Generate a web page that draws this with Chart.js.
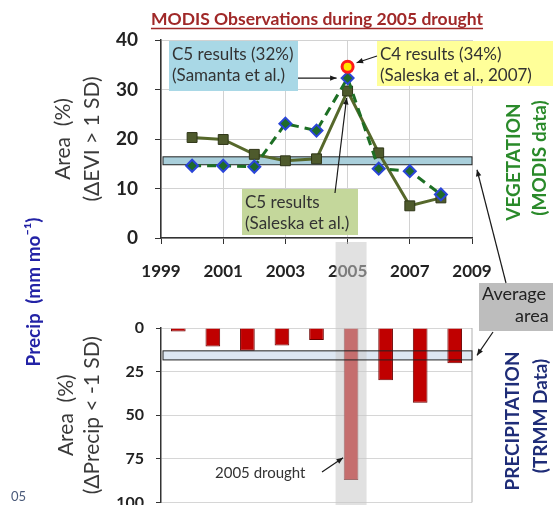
<!DOCTYPE html>
<html>
<head>
<meta charset="utf-8">
<script src="https://cdn.jsdelivr.net/npm/chart.js@4.4.1/dist/chart.umd.min.js"></script>
<style>
    html, body { margin: 0; padding: 0; background: #fff; }
    #wrap { position: relative; width: 553px; height: 505px; overflow: hidden; }
    #wrap canvas { position: absolute; left: 0; top: 0; }
</style>
</head>
<body>
<div id="wrap">
    <canvas id="vegChart" width="553" height="505"></canvas>
    <!-- taller than the page: the 100 % gridline sits right at the bottom edge and gets cut -->
    <canvas id="precipChart" width="553" height="524"></canvas>
</div>
<script>
/* ================================
   DATA
================================ */
const years = [2000, 2001, 2002, 2003, 2004, 2005, 2006, 2007, 2008];
const yearLabels = ['2000', '2001', '2002', '2003', '2004', '2005', '2006', '2007', '2008'];

// Area (%) with dEVI > 1 SD
const eviSaleska = [20.3, 19.9, 16.9, 15.6, 16.0, 29.7, 17.2, 6.5, 8.1];
const eviSamanta = [14.6, 14.6, 14.4, 23.1, 21.7, 32.3, 14.0, 13.5, 8.8];
const eviC4Year = [2005];
const eviC4 = [34.6];
const vegAvgBand = [14.8, 16.4];

// Area (%) with dPrecip < -1 SD
const precipArea = [2, 10.6, 13.1, 10, 6.9, 87.1, 30, 42.9, 20.2];
const precipAvgBand = [13.1, 18.3];
const droughtYear = '2005';

const FONT = 'Lato';
const font = (size, weight) => ({ family: FONT, size, weight: weight || 'normal' });
const PAGE_H = 505;

/* ================================
   DRAW HELPERS
================================ */
function arrow(ctx, x1, y1, x2, y2) {
    const a = Math.atan2(y2 - y1, x2 - x1), h = 7;
    ctx.save();
    ctx.strokeStyle = '#1a1a1a';
    ctx.fillStyle = '#1a1a1a';
    ctx.lineWidth = 1.2;
    ctx.beginPath(); ctx.moveTo(x1, y1); ctx.lineTo(x2, y2); ctx.stroke();
    ctx.beginPath();
    ctx.moveTo(x2, y2);
    ctx.lineTo(x2 - h * Math.cos(a - 0.4), y2 - h * Math.sin(a - 0.4));
    ctx.lineTo(x2 - h * Math.cos(a + 0.4), y2 - h * Math.sin(a + 0.4));
    ctx.closePath(); ctx.fill();
    ctx.restore();
}

function noteBox(ctx, x, y, w, h, fill, lines, size) {
    ctx.save();
    ctx.fillStyle = fill;
    ctx.fillRect(x, y, w, h);
    ctx.fillStyle = '#333';
    ctx.font = `${size}px ${FONT}`;
    ctx.textBaseline = 'middle';
    lines.forEach((t, i) => ctx.fillText(t, x + 3, y + 14 + i * 21));
    ctx.restore();
}

function vText(ctx, text, x, y, size, color, weight) {
    ctx.save();
    ctx.translate(x, y);
    ctx.rotate(-Math.PI / 2);
    ctx.font = `${weight || 'bold'} ${size}px ${FONT}`;
    ctx.fillStyle = color;
    ctx.textAlign = 'center';
    ctx.textBaseline = 'middle';
    ctx.fillText(text, 0, 0);
    ctx.restore();
}

function band(ctx, area, yTop, yBot, fill) {
    ctx.save();
    if (fill) {
        ctx.fillStyle = fill;
        ctx.fillRect(area.left + 2, yTop, area.right - area.left - 2, yBot - yTop);
    }
    ctx.strokeStyle = '#222';
    ctx.lineWidth = 1;
    ctx.strokeRect(area.left + 2, yTop, area.right - area.left - 2, yBot - yTop);
    ctx.restore();
}

/* ================================
   VEGETATION (TOP) CHART
================================ */
const vegPlugin = {
    id: 'vegNotes',
    beforeDatasetsDraw(chart) {
        const y = chart.scales.y;
        band(chart.ctx, chart.chartArea, y.getPixelForValue(vegAvgBand[1]), y.getPixelForValue(vegAvgBand[0]), '#a9cfdb');
    },
    afterDraw(chart) {
        const ctx = chart.ctx, x = chart.scales.x, y = chart.scales.y;
        const px = x.getPixelForValue(2005);

        // title
        ctx.save();
        ctx.font = `bold 17.5px ${FONT}`;
        ctx.fillStyle = '#a02828';
        ctx.textAlign = 'center';
        ctx.textBaseline = 'alphabetic';
        const title = 'MODIS Observations during 2005 drought';
        ctx.fillText(title, 317, 25);
        const tw = ctx.measureText(title).width;
        ctx.strokeStyle = '#a02828';
        ctx.lineWidth = 1.3;
        ctx.beginPath(); ctx.moveTo(317 - tw / 2, 28.5); ctx.lineTo(317 + tw / 2, 28.5); ctx.stroke();
        ctx.restore();

        noteBox(ctx, 169, 41, 129, 50, '#a9d8e6', ['C5 results (32%)', '(Samanta et al.)'], 17);
        noteBox(ctx, 377, 41, 176, 45, '#ffff99', ['C4 results (34%)', '(Saleska et al., 2007)'], 17);
        noteBox(ctx, 242, 189, 116, 46, '#c4d79b', ['C5 results', '(Saleska et al.)'], 17);

        arrow(ctx, 298, y.getPixelForValue(eviSamanta[5]), px - 11, y.getPixelForValue(eviSamanta[5]));
        arrow(ctx, 377, 56, px + 9, y.getPixelForValue(eviC4[0]) - 4);
        arrow(ctx, 335, 193, px - 1, y.getPixelForValue(eviSaleska[5]) + 7);
    }
};

const vegChart = new Chart(document.getElementById('vegChart'), {
    type: 'line',
    data: {
        datasets: [
            {
                label: 'C4 results (Saleska et al., 2007)',
                data: eviC4Year.map((yr, i) => ({ x: yr, y: eviC4[i] })),
                showLine: false,
                pointStyle: 'circle',
                pointRadius: 5.5,
                pointBackgroundColor: '#ffe600',
                pointBorderColor: '#ff1a1a',
                pointBorderWidth: 3
            },
            {
                label: 'C5 results (Samanta et al.)',
                data: years.map((yr, i) => ({ x: yr, y: eviSamanta[i] })),
                borderColor: '#1d6f24',
                borderWidth: 3,
                borderDash: [9, 6],
                pointStyle: 'rectRot',
                pointRadius: 6,
                pointBackgroundColor: '#1f6b2a',
                pointBorderColor: '#2a45d8',
                pointBorderWidth: 2,
                tension: 0
            },
            {
                label: 'C5 results (Saleska et al.)',
                data: years.map((yr, i) => ({ x: yr, y: eviSaleska[i] })),
                borderColor: '#56682b',
                borderWidth: 3,
                pointStyle: 'rect',
                pointRadius: 7,
                pointBackgroundColor: '#4e5a2c',
                pointBorderColor: '#2f3618',
                pointBorderWidth: 1,
                tension: 0
            }
        ]
    },
    options: {
        responsive: false,
        animation: false,
        devicePixelRatio: 1,
        layout: { padding: { top: 40, right: 81, left: 0, bottom: 0 } },
        plugins: { legend: { display: false }, tooltip: { enabled: false } },
        scales: {
            x: {
                type: 'linear',
                min: 1999,
                max: 2009,
                ticks: { stepSize: 2, callback: v => String(v), font: font(17, 'bold'), color: '#222', padding: 17 },
                grid: { color: '#d2d2d2', tickColor: '#333', tickLength: 6 },
                border: { color: '#333', width: 1.5 },
                afterFit: s => { s.height = 267; }
            },
            y: {
                min: 0,
                max: 40,
                ticks: { stepSize: 10, font: font(19, 'bold'), color: '#222', padding: 17 },
                grid: { color: '#d2d2d2', tickColor: '#333', tickLength: 6 },
                border: { color: '#333', width: 1.5 },
                title: {
                    display: true,
                    text: ['Area  (%)', '(\u0394EVI > 1 SD)'],
                    font: { family: FONT, size: 21, lineHeight: 1.38 },
                    color: '#3a3a3a',
                    padding: { top: 48.5, bottom: 0 }
                },
                afterFit: s => { s.width = 161; }
            }
        }
    },
    plugins: [vegPlugin]
});

/* ================================
   PRECIPITATION (BOTTOM) CHART
================================ */
const precipPlugin = {
    id: 'precipNotes',
    beforeDatasetsDraw(chart) {
        const y = chart.scales.y;
        const ctx = chart.ctx, a = chart.chartArea;
        const yTop = y.getPixelForValue(precipAvgBand[0]), yBot = y.getPixelForValue(precipAvgBand[1]);
        ctx.save();
        ctx.fillStyle = '#dde7f3';
        ctx.fillRect(a.left + 2, yTop, a.right - a.left - 2, yBot - yTop);
        ctx.restore();
    },
    afterDatasetsDraw(chart) {
        const ctx = chart.ctx, a = chart.chartArea, x = chart.scales.x, y = chart.scales.y;

        // plot frame on the right
        ctx.save();
        ctx.strokeStyle = '#b0b0b0';
        ctx.lineWidth = 1;
        ctx.beginPath(); ctx.moveTo(a.right, a.top); ctx.lineTo(a.right, a.bottom); ctx.stroke();

        // drought year highlight, running up under the top axis labels
        const xc = x.getPixelForValue(yearLabels.indexOf(droughtYear));
        const top = vegChart.chartArea.bottom + 4;
        ctx.fillStyle = 'rgba(200, 200, 200, 0.55)';
        ctx.fillRect(xc - 15.5, top, 31, PAGE_H - top);
        ctx.restore();

        band(ctx, a, y.getPixelForValue(precipAvgBand[0]), y.getPixelForValue(precipAvgBand[1]), null);
    },
    afterDraw(chart) {
        const ctx = chart.ctx, a = chart.chartArea, x = chart.scales.x, y = chart.scales.y;
        const vy = vegChart.scales.y, va = vegChart.chartArea;
        const xc = x.getPixelForValue(yearLabels.indexOf(droughtYear));

        ctx.save();
        ctx.font = `15px ${FONT}`;
        ctx.fillStyle = '#333';
        ctx.textBaseline = 'middle';
        ctx.fillText('2005 drought', 215, 473);
        ctx.restore();
        arrow(ctx, 322, 472, xc - 8, y.getPixelForValue(75) - 1);

        // Average area call-out
        ctx.save();
        ctx.fillStyle = '#bdbdbd';
        ctx.fillRect(479, 283, 74, 48);
        ctx.font = `18px ${FONT}`;
        ctx.fillStyle = '#222';
        ctx.textBaseline = 'middle';
        ctx.fillText('Average', 482, 294);
        ctx.fillText('area', 515, 316);
        ctx.restore();
        arrow(ctx, 506, 283, va.right + 5, vy.getPixelForValue(vegAvgBand[0]) + 5);
        arrow(ctx, 493, 332, a.right + 5, y.getPixelForValue((precipAvgBand[0] + precipAvgBand[1]) / 2));

        // side labels
        vText(ctx, 'VEGETATION', 513.5, 162, 19, '#2a8a2a');
        vText(ctx, '(MODIS data)', 540, 158, 19, '#2a8a2a');
        vText(ctx, 'PRECIPITATION', 512.5, 421, 19, '#1f2d78');
        vText(ctx, '(TRMM Data)', 540.5, 416, 19, '#1f2d78');
        vText(ctx, 'Precip  (mm mo\u207B\u00B9)', 33.5, 292, 19, '#2323a6');

        ctx.save();
        ctx.font = `13px ${FONT}`;
        ctx.fillStyle = '#4a5a7a';
        ctx.textBaseline = 'middle';
        ctx.fillText('05', 11, 497);
        ctx.restore();
    }
};

new Chart(document.getElementById('precipChart'), {
    type: 'bar',
    data: {
        labels: yearLabels,
        datasets: [{
            label: 'Area (%) dPrecip < -1 SD',
            data: precipArea,
            backgroundColor: '#c00000',
            borderColor: '#6b0000',
            borderWidth: 1,
            barPercentage: 0.85,
            categoryPercentage: 0.5
        }]
    },
    options: {
        responsive: false,
        animation: false,
        devicePixelRatio: 1,
        layout: { padding: { top: 328, right: 81, left: 0, bottom: 3 } },
        plugins: { legend: { display: false }, tooltip: { enabled: false } },
        scales: {
            x: {
                ticks: { display: false },
                grid: { display: false },
                border: { display: false },
                afterFit: s => { s.height = 0; }
            },
            y: {
                reverse: true,
                min: 0,
                max: 100,
                ticks: { stepSize: 25, font: font(16, 'bold'), color: '#222', padding: 12 },
                grid: { color: '#d6d6d6', tickColor: '#333', tickLength: 5 },
                border: { color: '#333', width: 1.5 },
                title: {
                    display: true,
                    text: ['Area  (%)', '(\u0394Precip < -1 SD)'],
                    font: { family: FONT, size: 21, lineHeight: 1.24 },
                    color: '#3a3a3a',
                    padding: { top: 53.5, bottom: 0 }
                },
                afterFit: s => { s.width = 161; }
            }
        }
    },
    plugins: [precipPlugin]
});
</script>
</body>
</html>
